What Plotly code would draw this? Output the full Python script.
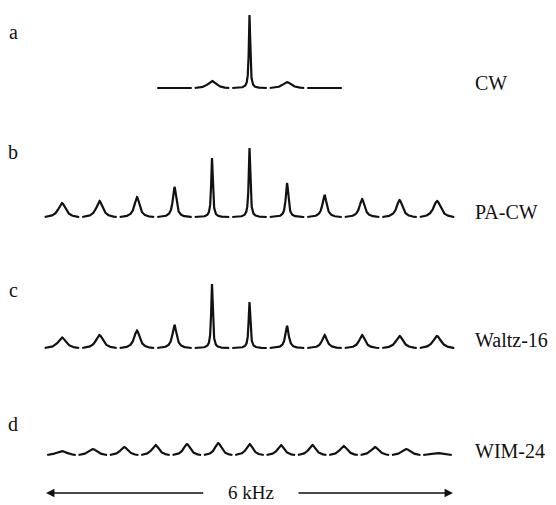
import numpy as np
import plotly.graph_objects as go

# ---- data (frequency offsets in kHz, intensities in a.u.) ----
spacing_abc = 0.553          # sideband spacing, spectra a-c (kHz)
spacing_d = 0.462            # sideband spacing, spectrum d (kHz)

orders_a = [-2, -1, 0, 1, 2]
heights_a = [0.6, 7, 73, 6, 0.6]
widths_a = [0.10, 0.075, 0.012, 0.075, 0.10]

orders_b = [-5, -4, -3, -2, -1, 0, 1, 2, 3, 4, 5]
heights_b = [14, 16, 20, 30, 59, 69, 34, 22, 18, 17, 16]
widths_b = [0.065, 0.058, 0.045, 0.030, 0.014, 0.014, 0.022, 0.037, 0.045, 0.052, 0.065]

orders_c = [-5, -4, -3, -2, -1, 0, 1, 2, 3, 4, 5]
heights_c = [10.5, 13, 17.5, 23, 64, 46, 22, 13, 13, 12, 12]
widths_c = [0.072, 0.065, 0.050, 0.037, 0.014, 0.015, 0.030, 0.045, 0.052, 0.065, 0.072]

orders_d = [-6, -5, -4, -3, -2, -1, 0, 1, 2, 3, 4, 5, 6]
heights_d = [4, 6, 8, 10, 11, 12, 11, 10, 10, 9, 8, 6, 2]
widths_d = [0.10, 0.08, 0.07, 0.065, 0.06, 0.06, 0.06, 0.06, 0.065, 0.07, 0.075, 0.08, 0.10]

labels_left = ["a", "b", "c", "d"]
labels_right = ["CW", "PA-CW", "Waltz-16", "WIM-24"]
span_khz = 6

# ---- layout constants (vertical offsets of the stacked spectra) ----
offsets = [417, 288, 157, 50]
PX = 6 / 407.0                      # kHz per pixel
X0 = -249.5 * PX
X1 = (556 - 249.5) * PX


def spectrum(orders, heights, widths, spacing, frac=0.46):
    xs, ys = [], []
    half = frac * spacing
    for o, h, w in zip(orders, heights, widths):
        c = o * spacing
        x = np.linspace(c - half, c + half, 401)
        lor = w * w / ((x - c) ** 2 + w * w)
        edge = w * w / (half ** 2 + w * w)
        amp = h / (1 - edge)
        y = amp * (lor - edge)
        xs.extend(x.tolist() + [None])
        ys.extend(y.tolist() + [None])
    return xs, ys


fig = go.Figure()
sets = [
    (orders_a, heights_a, widths_a, spacing_abc),
    (orders_b, heights_b, widths_b, spacing_abc),
    (orders_c, heights_c, widths_c, spacing_abc),
    (orders_d, heights_d, widths_d, spacing_d),
]
for (o, h, w, s), off in zip(sets, offsets):
    frac = 0.455 if s == spacing_d else 0.46
    xs, ys = spectrum(o, h, w, s, frac)
    ys = [None if v is None else v + off for v in ys]
    fig.add_trace(go.Scatter(x=xs, y=ys, mode="lines",
                             line=dict(color="#111111", width=2.2),
                             hoverinfo="skip", showlegend=False))

font = dict(family="Liberation Serif", size=20, color="#111111")
ann = []
left_y = [32, 152, 290, 424]
for t, yy in zip(labels_left, left_y):
    ann.append(dict(text=t, x=13 / 556, y=1 - yy / 505, xref="paper", yref="paper",
                    showarrow=False, xanchor="center", yanchor="middle", font=font))
right_y = [83, 212, 340, 451]
for t, yy in zip(labels_right, right_y):
    ann.append(dict(text=t, x=473 / 556, y=1 - yy / 505, xref="paper", yref="paper",
                    showarrow=False, xanchor="left", yanchor="middle", font=font))
# scale bar: 6 kHz double arrow
arrow_y = 12
ann.append(dict(text="%d kHz" % span_khz, x=0.02, y=0, xref="x", yref="paper",
                showarrow=False, xanchor="center", yanchor="bottom",
                font=dict(family="Liberation Serif", size=19, color="#111111")))
ann.append(dict(text="", x=-span_khz / 2, y=arrow_y, ax=-0.66, ay=arrow_y,
                xref="x", yref="y", axref="x", ayref="y", showarrow=True,
                arrowhead=2, arrowsize=1.3, arrowwidth=1.3, arrowcolor="#111111"))
ann.append(dict(text="", x=span_khz / 2, y=arrow_y, ax=0.70, ay=arrow_y,
                xref="x", yref="y", axref="x", ayref="y", showarrow=True,
                arrowhead=2, arrowsize=1.3, arrowwidth=1.3, arrowcolor="#111111"))

fig.update_layout(
    width=556, height=505,
    margin=dict(l=0, r=0, t=0, b=0),
    paper_bgcolor="white", plot_bgcolor="white",
    xaxis=dict(range=[X0, X1], visible=False, fixedrange=True),
    yaxis=dict(range=[0, 505], visible=False, fixedrange=True),
    annotations=ann,
)
fig.write_html("out.html")
